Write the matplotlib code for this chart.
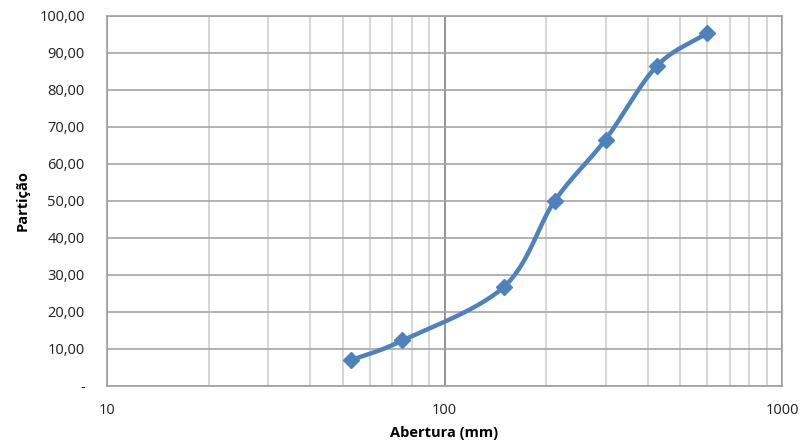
import numpy as np
import matplotlib.pyplot as plt
from matplotlib.ticker import FixedLocator, FuncFormatter, NullFormatter

abertura = [53, 75, 150, 212, 300, 425, 600]
particao = [7.0, 12.3, 26.8, 50.0, 66.6, 86.4, 95.4]

fig = plt.figure(figsize=(8.03, 4.48), dpi=100)
ax = fig.add_axes([0.1333, 0.1384, 0.8405, 0.8259])

ax.set_xscale("log")
ax.set_xlim(10, 1000)
ax.set_ylim(0, 100)

# smoothed line like Excel (Catmull-Rom in axes space)
u = (np.log10(abertura) - 1) / 2 * 0.8405 * 8.03
v = np.array(particao) / 100 * 0.8259 * 4.48
pu = np.concatenate([[2 * u[0] - u[1]], u, [2 * u[-1] - u[-2]]])
pv = np.concatenate([[2 * v[0] - v[1]], v, [2 * v[-1] - v[-2]]])
cu, cv = [], []
t = np.linspace(0, 1, 30)
for i in range(1, len(pu) - 2):
    p0, p1, p2, p3 = (np.array([pu[j], pv[j]]) for j in range(i - 1, i + 3))
    b1 = p1 + (p2 - p0) / 6
    b2 = p2 - (p3 - p1) / 6
    seg = ((1 - t) ** 3)[:, None] * p1 + (3 * (1 - t) ** 2 * t)[:, None] * b1 \
        + (3 * (1 - t) * t ** 2)[:, None] * b2 + (t ** 3)[:, None] * p2
    cu.extend(seg[:, 0])
    cv.extend(seg[:, 1])
cx = 10 ** (np.array(cu) / (0.8405 * 8.03) * 2 + 1)
cy = np.array(cv) / (0.8259 * 4.48) * 100

ax.plot(cx, cy, color="#4F81BD", linewidth=3.2, solid_capstyle="round", zorder=3)
ax.plot(abertura, particao, linestyle="none", marker="D", markersize=8,
        color="#4F81BD", zorder=4)

ax.set_yticks(np.arange(0, 101, 10))
ax.yaxis.set_major_formatter(FuncFormatter(
    lambda val, pos: "-" if val == 0 else f"{val:.2f}".replace(".", ",")))
ax.xaxis.set_major_locator(FixedLocator([10, 100, 1000]))
ax.xaxis.set_major_formatter(FuncFormatter(lambda val, pos: f"{val:.0f}"))
ax.xaxis.set_minor_formatter(NullFormatter())

ax.grid(True, which="minor", axis="x", color="#CFCFCF", linewidth=1.2)
ax.grid(True, which="major", axis="x", color="#808080", linewidth=1.2)
ax.grid(True, which="major", axis="y", color="#A6A6A6", linewidth=1.2)
ax.set_axisbelow(True)

for s in ax.spines.values():
    s.set_color("#A0A0A0")
    s.set_linewidth(1.2)

ax.tick_params(axis="both", which="both", length=0, labelsize=10.5,
               labelcolor="#1F1F1F")
ax.tick_params(axis="x", pad=12)
ax.tick_params(axis="y", pad=16)
for lab in ax.get_xticklabels() + ax.get_yticklabels():
    lab.set_fontfamily("Open Sans")

ax.set_xlabel("Abertura (mm)", fontsize=10.5, fontweight="bold",
              fontfamily="Open Sans", labelpad=6)
ax.set_ylabel("Partição", fontsize=10.5, fontweight="bold",
              fontfamily="Open Sans", labelpad=7)

fig.savefig("out.png", dpi=100)
